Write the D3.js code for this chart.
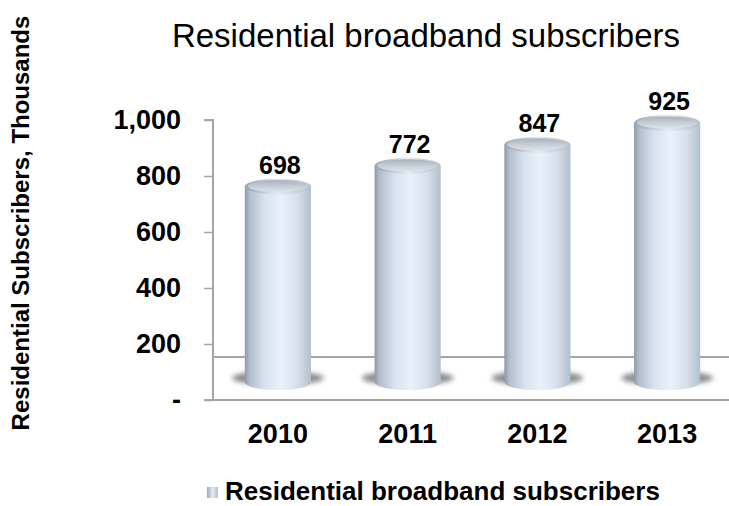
<!DOCTYPE html>
<html>
<head>
<meta charset="utf-8">
<script src="https://cdn.jsdelivr.net/npm/d3@7"></script>
<style>
  html, body { margin: 0; padding: 0; background: #fff; }
  svg { display: block; font-family: "Liberation Sans", Arial, sans-serif; }
</style>
</head>
<body>
<svg id="chart" width="729" height="506"></svg>
<script>
// Residential broadband subscribers (thousands), by year
const years = ["2010", "2011", "2012", "2013"];
const subscribers = [698, 772, 847, 925];
const tickValues = [0, 200, 400, 600, 800, 1000];
const tickLabels = ["-", "200", "400", "600", "800", "1,000"];

const svg = d3.select("#chart");
const W = 729, H = 506;
const FONT = "'Liberation Sans', Arial, sans-serif";

const x = d3.scaleBand().domain(years).range([213, 732]).paddingInner(0.49).paddingOuter(0.245);
const y = d3.scaleLinear().domain([0, 1000]).range([400, 120]);

const depth = 18;      // vertical shift of the 3-D depth plane
const capRy = 8;       // ellipse half-height of cylinder caps

const defs = svg.append("defs");
const body = defs.append("linearGradient").attr("id", "cylBody").attr("x1", 0).attr("x2", 1).attr("y1", 0).attr("y2", 0);
[[0, "#8e9aab"], [0.08, "#b3bfcd"], [0.3, "#d8e2ee"], [0.55, "#eaf1fa"], [0.8, "#d6e0eb"], [1, "#b4bfcc"]]
  .forEach(([o, c]) => body.append("stop").attr("offset", o).attr("stop-color", c));
const cap = defs.append("linearGradient").attr("id", "cylCap").attr("x1", 0).attr("x2", 0).attr("y1", 0).attr("y2", 1);
[[0, "#aab1bb"], [0.5, "#c6ccd4"], [1, "#dde3ea"]]
  .forEach(([o, c]) => cap.append("stop").attr("offset", o).attr("stop-color", c));
const capRim = defs.append("linearGradient").attr("id", "capRim").attr("x1", 0).attr("x2", 1).attr("y1", 0).attr("y2", 0);
[[0, "#9aa5b4"], [0.5, "#e4ebf3"], [1, "#b6c0cc"]]
  .forEach(([o, c]) => capRim.append("stop").attr("offset", o).attr("stop-color", c));
defs.append("filter").attr("id", "shadowBlur").attr("x", "-30%").attr("y", "-100%").attr("width", "160%").attr("height", "300%")
  .append("feGaussianBlur").attr("stdDeviation", 2.5);
const legendGrad = defs.append("linearGradient").attr("id", "legendGrad").attr("x1", 0).attr("x2", 1);
[[0, "#9ba6b4"], [0.5, "#e3eaf2"], [1, "#b7c1cd"]]
  .forEach(([o, c]) => legendGrad.append("stop").attr("offset", o).attr("stop-color", c));

// Title
svg.append("text").attr("x", 426).attr("y", 47).attr("text-anchor", "middle")
  .attr("font-size", 33).attr("fill", "#000").text("Residential broadband subscribers");

// Y axis title
svg.append("text").attr("transform", "translate(29,223) rotate(-90)").attr("text-anchor", "middle")
  .attr("font-size", 24).attr("font-weight", "bold").attr("fill", "#000")
  .text("Residential Subscribers, Thousands");

// Floor lines (back edge and front edge)
const lineColor = "#a6a6a6";
svg.append("line").attr("x1", 213).attr("x2", W).attr("y1", y(0) - 43).attr("y2", y(0) - 43)
  .attr("stroke", lineColor).attr("stroke-width", 2);
svg.append("line").attr("x1", 213).attr("x2", W).attr("y1", y(0)).attr("y2", y(0))
  .attr("stroke", lineColor).attr("stroke-width", 2);

// Y axis
const yAxis = d3.axisLeft(y).tickValues(tickValues).tickSize(9).tickPadding(23)
  .tickFormat((d, i) => tickLabels[i]);
const gy = svg.append("g").attr("transform", "translate(213,0)").call(yAxis);
gy.select(".domain").attr("stroke", lineColor).attr("stroke-width", 2).attr("d", `M-9,${y(1000)}H0V${y(0)}H-9`);
gy.selectAll(".tick line").attr("stroke", lineColor).attr("stroke-width", 1.5);
gy.selectAll(".tick text").attr("font-size", 27).attr("font-weight", "bold").attr("fill", "#000")
  .attr("font-family", FONT);

// X axis labels
const xAxis = d3.axisBottom(x).tickSize(0).tickPadding(0);
const gx = svg.append("g").attr("transform", "translate(0,443)").call(xAxis);
gx.select(".domain").remove();
gx.selectAll(".tick text").attr("font-size", 27).attr("font-weight", "bold").attr("fill", "#000")
  .attr("y", 0).attr("dy", 0).attr("font-family", FONT);

// Cylinders
const data = years.map((yr, i) => ({ year: yr, value: subscribers[i] }));
const bw = x.bandwidth();
const rx = bw / 2;
const g = svg.append("g");
const bars = g.selectAll("g.bar").data(data).join("g").attr("class", "bar");

bars.append("ellipse")
  .attr("cx", d => x(d.year) + rx).attr("cy", y(0) - depth - 4)
  .attr("rx", rx + 13).attr("ry", 7)
  .attr("fill", "#6f6f6f").attr("opacity", 0.8).attr("filter", "url(#shadowBlur)");

bars.append("path")
  .attr("d", d => {
    const x0 = x(d.year), x1 = x0 + bw;
    const yt = y(d.value) - depth, yb = y(0) - depth;
    return `M${x0},${yt}V${yb}A${rx},${capRy} 0 0 0 ${x1},${yb}V${yt}Z`;
  })
  .attr("fill", "url(#cylBody)");

bars.append("ellipse")
  .attr("cx", d => x(d.year) + rx).attr("cy", d => y(d.value) - depth)
  .attr("rx", rx).attr("ry", capRy)
  .attr("fill", "url(#capRim)");
bars.append("ellipse")
  .attr("cx", d => x(d.year) + rx).attr("cy", d => y(d.value) - depth - 0.5)
  .attr("rx", rx - 3).attr("ry", capRy - 2)
  .attr("fill", "url(#cylCap)");

// Value labels
bars.append("text")
  .attr("x", d => x(d.year) + rx + 2).attr("y", d => y(d.value) - depth - capRy - 5)
  .attr("text-anchor", "middle").attr("font-size", 25).attr("font-weight", "bold").attr("fill", "#000")
  .text(d => d3.format("d")(d.value));

// Legend
const legend = svg.append("g").attr("transform", "translate(207,487)");
legend.append("rect").attr("width", 11).attr("height", 11).attr("fill", "url(#legendGrad)");
legend.append("text").attr("x", 18).attr("y", 13).attr("font-size", 26).attr("font-weight", "bold").attr("fill", "#000")
  .text("Residential broadband subscribers");
</script>
</body>
</html>
